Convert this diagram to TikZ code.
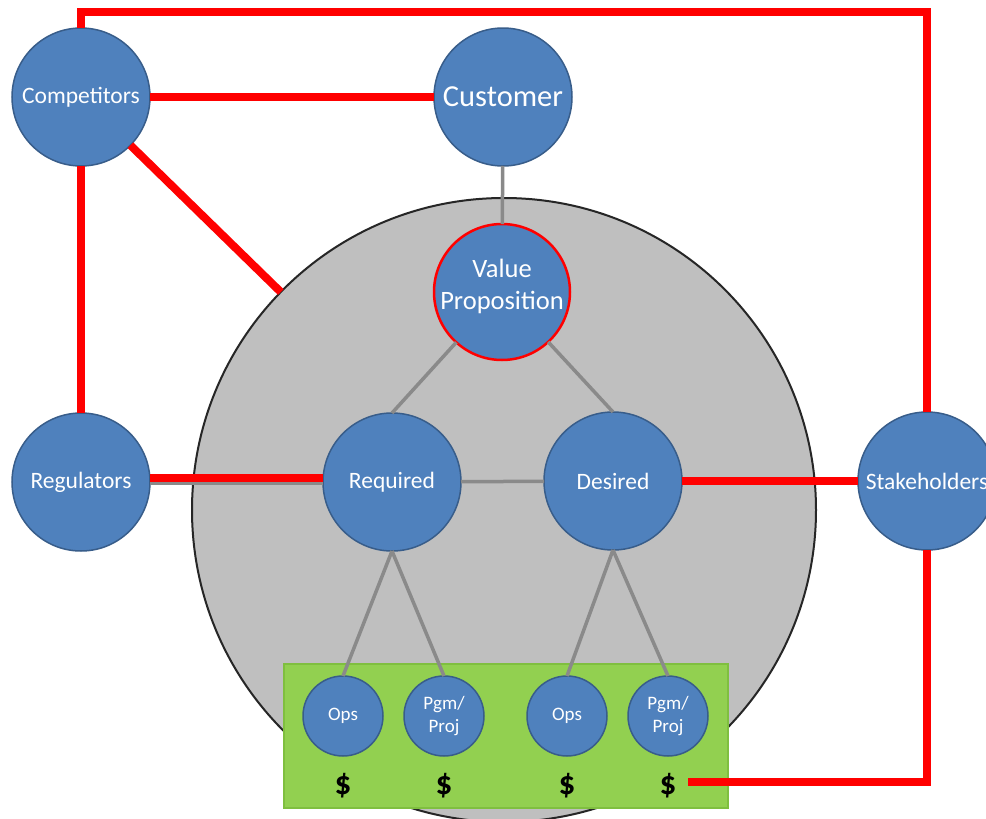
\documentclass[tikz,border=0pt]{standalone}
\usepackage{fontspec}
\setmainfont{Carlito}
\definecolor{bfill}{HTML}{4F81BD}
\definecolor{bline}{HTML}{385D8A}
\definecolor{gfill}{HTML}{92D050}
\definecolor{gline}{HTML}{7FBF3F}
\definecolor{cgray}{HTML}{BFBFBF}
\definecolor{lgray}{HTML}{8A8A8A}
\definecolor{rred}{HTML}{FF0000}
\tikzset{
  bnode/.style={circle, fill=bfill, draw=bline, line width=1.5pt, inner sep=0pt, outer sep=0pt, minimum size=138pt, text=white, align=center, font=\fontsize{23.5}{28}\selectfont},
  snode/.style={bnode, minimum size=80pt, font=\fontsize{19}{23.5}\selectfont},
  redline/.style={draw=rred, line width=8pt, line join=miter},
  grayline/.style={draw=lgray, line width=3.5pt},
  dollar/.style={font=\fontsize{33}{35}\selectfont\bfseries, inner sep=0pt},
  vptext/.style={text=white, align=center, inner sep=0pt, font=\fontsize{26.5}{32}\selectfont},
}
\begin{document}
\begin{tikzpicture}[x=1pt,y=-1pt]
\useasboundingbox (0,0) rectangle (986,819);
\fill[white] (0,0) rectangle (986,819);
% big circle
\node[circle, fill=cgray, draw=black!85, line width=2pt, minimum size=624pt, inner sep=0pt, outer sep=0pt] (big) at (504,510) {};
% nodes
\node[bnode] (comp) at (81,97) {Competitors};
\node[bnode, font=\fontsize{30.5}{34}\selectfont] (cust) at (503,97) {Customer};
\node[bnode, draw=rred, line width=2.5pt, minimum size=136pt] (vp) at (502,292) {};
\node[vptext] (vpt) at (502,286) {Value\\Proposition};
\node[bnode] (reg) at (81,482) {Regulators};
\node[bnode] (req) at (392,482) {Required};
\node[bnode] (des) at (613,481) {Desired};
\node[bnode] (stake) at (927,481) {Stakeholders};
% green box
\node[draw=gline, fill=gfill, line width=1.5pt, minimum width=444pt, minimum height=144pt, inner sep=0pt] (gbox) at (506,736) {};
\node[snode] (o1) at (343,716) {Ops};
\node[snode] (p1) at (444,716) {Pgm/\\Proj};
\node[snode] (o2) at (567,716) {Ops};
\node[snode] (p2) at (668,716) {Pgm/\\Proj};
\node[dollar] (d1) at (343,786) {\$};
\node[dollar] (d2) at (444,786) {\$};
\node[dollar] (d3) at (567,786) {\$};
\node[dollar] (d4) at (668,786) {\$};
% gray connectors
\draw[grayline] (cust) -- (vp);
\draw[grayline] (req.north) -- (vp);
\draw[grayline] (des.north) -- (vp);
\draw[grayline] (req) -- (des);
\draw[grayline] ([yshift=-1pt]reg.east) -- ([yshift=-1pt]req.west);
\draw[grayline] (req.south) -- (o1.north);
\draw[grayline] (req.south) -- (p1.north);
\draw[grayline] (des.south) -- (o2.north);
\draw[grayline] (des.south) -- (p2.north);
% red connectors
\coordinate (ty) at (0,12);
\coordinate (dend) at (688,782);
\draw[redline] (comp.north) -- (comp.north |- ty) -- (stake.north |- ty) -- (stake.north);
\draw[redline] (comp) -- (cust);
\draw[redline] (comp) -- (big);
\draw[redline] (comp) -- (reg);
\draw[redline] ([yshift=4.5pt]reg.east) -- ([yshift=4.5pt]req.west);
\draw[redline] (des) -- (stake);
\draw[redline] (stake.south) |- (dend);
\end{tikzpicture}
\end{document}
